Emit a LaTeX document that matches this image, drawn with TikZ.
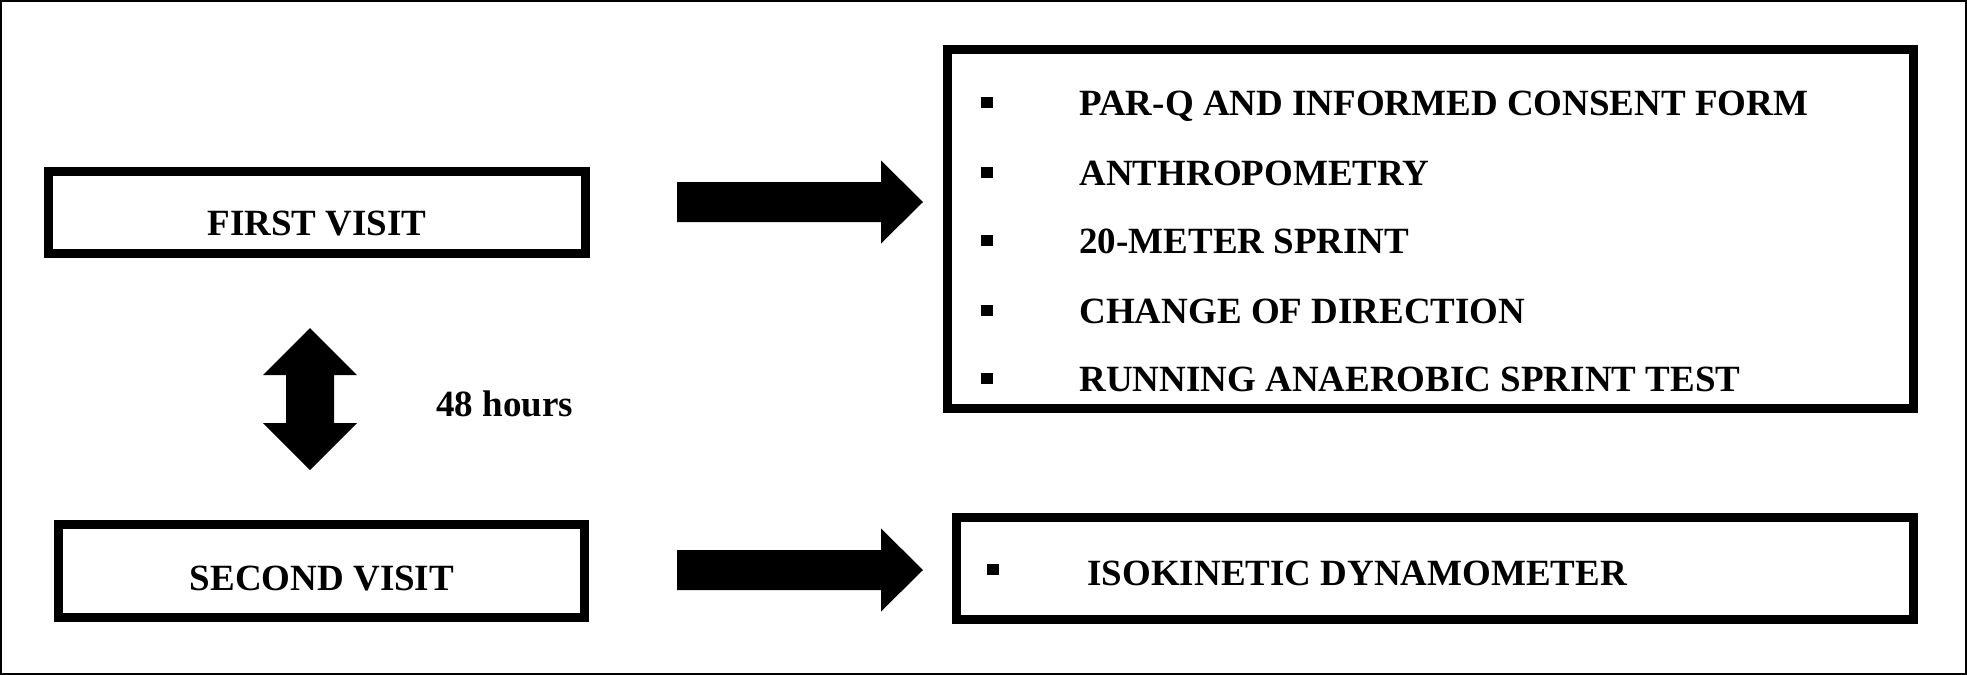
\documentclass[tikz,border=0pt]{standalone}
\usepackage{fontspec}
\setmainfont{Liberation Serif}
\tikzset{
  box/.style={draw=black, line width=4.5pt, fill=white, inner sep=0pt},
  lbl/.style={inner sep=0pt, font=\fontsize{18.5}{22}\selectfont\bfseries},
  bul/.style={fill=black, draw=none, minimum width=6pt, minimum height=5.5pt, inner sep=0pt},
  rarrow/.pic={\fill (0,-20) -- (204,-20) -- (204,-41.5) -- (246,0) -- (204,41.5) -- (204,20) -- (0,20) -- cycle;},
  vdarrow/.pic={\fill (0,-71) -- (47,-24) -- (24,-24) -- (24,24) -- (47,24) -- (0,71) -- (-47,24) -- (-24,24) -- (-24,-24) -- (-47,-24) -- cycle;}
}
\begin{document}
\begin{tikzpicture}[x=0.5pt,y=-0.5pt]
\useasboundingbox (0,0) rectangle (1967,675);
\draw[line width=1pt] (1,1) rectangle (1966,674);

% left boxes
\node[box, minimum width=268.5pt, minimum height=41pt] (first) at (317,212.5) {};
\node[lbl, anchor=base] (firstt) at (317,235) {FIRST VISIT};
\node[box, minimum width=263pt, minimum height=46.5pt] (second) at (321.5,571) {};
\node[lbl, anchor=base] (secondt) at (322,590) {SECOND VISIT};

% right boxes
\node[box, minimum width=483pt, minimum height=179.5pt] (tests1) at (1430.5,229) {};
\node[box, minimum width=478.5pt, minimum height=51pt] (tests2) at (1435,568.5) {};

% list items
\node[bul] (b1) at (987,102) {};
\node[lbl, anchor=base west] (i1) at (1079,115) {PAR-Q AND INFORMED CONSENT FORM};
\node[bul] (b2) at (987,172) {};
\node[lbl, anchor=base west] (i2) at (1079,185) {ANTHROPOMETRY};
\node[bul] (b3) at (987,240) {};
\node[lbl, anchor=base west] (i3) at (1079,253) {20-METER SPRINT};
\node[bul] (b4) at (987,310) {};
\node[lbl, anchor=base west] (i4) at (1079,323) {CHANGE OF DIRECTION};
\node[bul] (b5) at (987,378) {};
\node[lbl, anchor=base west] (i5) at (1079,391) {RUNNING ANAEROBIC SPRINT TEST};
\node[bul] (b6) at (993,569) {};
\node[lbl, anchor=base west] (i6) at (1087,585) {ISOKINETIC DYNAMOMETER};

% block arrows
\pic at (677,202) {rarrow};
\pic at (677,570) {rarrow};
\pic at (310,399) {vdarrow};
\node[lbl, anchor=base west] (hrs) at (436,416) {48 hours};
\end{tikzpicture}
\end{document}
